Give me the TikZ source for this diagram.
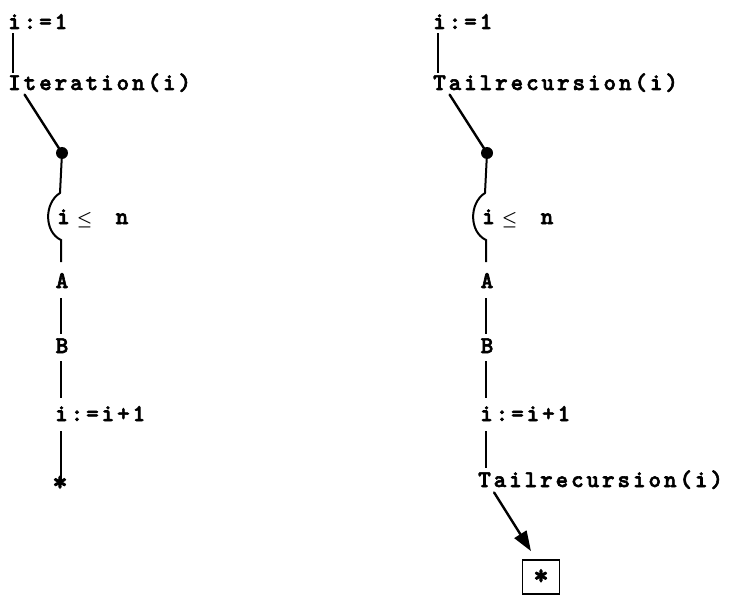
\documentclass[tikz,border=0pt]{standalone}
\usepackage{amsmath}
\usepackage{fontspec}
\setmonofont[LetterSpace=12, FakeBold=2.5]{lmmonolt10-bold.otf}
\usetikzlibrary{arrows.meta}
\tikzset{
  lbl/.style={inner sep=0pt, anchor=base west,
    font=\fontsize{24}{26}\selectfont\ttfamily},
  letter/.style={lbl, anchor=base},
  dot/.style={circle, fill, inner sep=0pt, minimum size=12pt},
  link/.style={line width=1.7pt},
  slant/.style={line width=2.4pt, line cap=round},
}
\newcommand{\starmark}{{\fontsize{29}{30}\selectfont *}}
\begin{document}
\begin{tikzpicture}[x=1pt,y=-1pt]
  \useasboundingbox (0,0) rectangle (738,596);
  % the two loops side by side
  \foreach \dx/\sd/\fname in {0/L/Iteration(i),425/R/Tailrecursion(i)}{
    \begin{scope}[xshift=\dx pt]
      \node[lbl] (init\sd) at (8,29) {i:=1};
      \node[lbl] (call\sd) at (8,90) {\fname};
      \node[dot] (join\sd) at (62,153) {};
      \node[lbl] (cond\sd) at (57,224)
        {i\hspace{7pt}{\fontsize{19}{20}\selectfont$\boldsymbol{\le}$}\hspace{8pt} n};
      \node[letter] (a\sd) at (62,288) {A};
      \node[letter] (b\sd) at (62,353) {B};
      \node[lbl] (incr\sd) at (55,421) {i:=i+1};
      \coordinate (ctop\sd) at (60,193);
      \coordinate (cbot\sd) at (61,240);
      % connectors
      \draw[link, shorten <=4pt] ([xshift=5pt]init\sd.south west)
        -- ([xshift=5pt]init\sd.south west |- call\sd.north);
      \draw[slant, shorten <=3pt] ([xshift=15pt]call\sd.south west) -- (join\sd.center);
      \draw[link, line width=2pt] (join\sd) -- (ctop\sd)
        .. controls (44,203) and (44,232) .. (cbot\sd) -- (cbot\sd |- 0,262);
      \draw[link, shorten <=10pt, shorten >=4pt] (cbot\sd |- a\sd.south) -- (cbot\sd |- b\sd.north);
      \draw[link, shorten <=8pt, shorten >=8pt] (cbot\sd |- b\sd.south) -- (cbot\sd |- incr\sd.north);
    \end{scope}
  }
  % left: end of loop
  \node[letter] (endL) at (60,491) {\starmark};
  \draw[link, shorten <=10pt, shorten >=-4pt] (cbotL |- incrL.south) -- (cbotL |- endL.north);
  % right: tail call
  \node[lbl] (tailR) at (478,487) {Tailrecursion(i)};
  \node[draw, line width=1.7pt, minimum width=37pt, minimum height=34pt,
    inner sep=0pt, font=\ttfamily]
    (stop) at (541,577) {\raisebox{-6pt}{\starmark}};
  \draw[link, shorten <=10pt, shorten >=2pt] (cbotR |- incrR.south) -- (cbotR |- tailR.north);
  \draw[slant, -{Triangle[length=20pt, width=14pt]}, shorten <=4pt]
    ([xshift=14pt]tailR.south west) -- ([xshift=-10pt,yshift=8pt]stop.north);
\end{tikzpicture}
\end{document}
